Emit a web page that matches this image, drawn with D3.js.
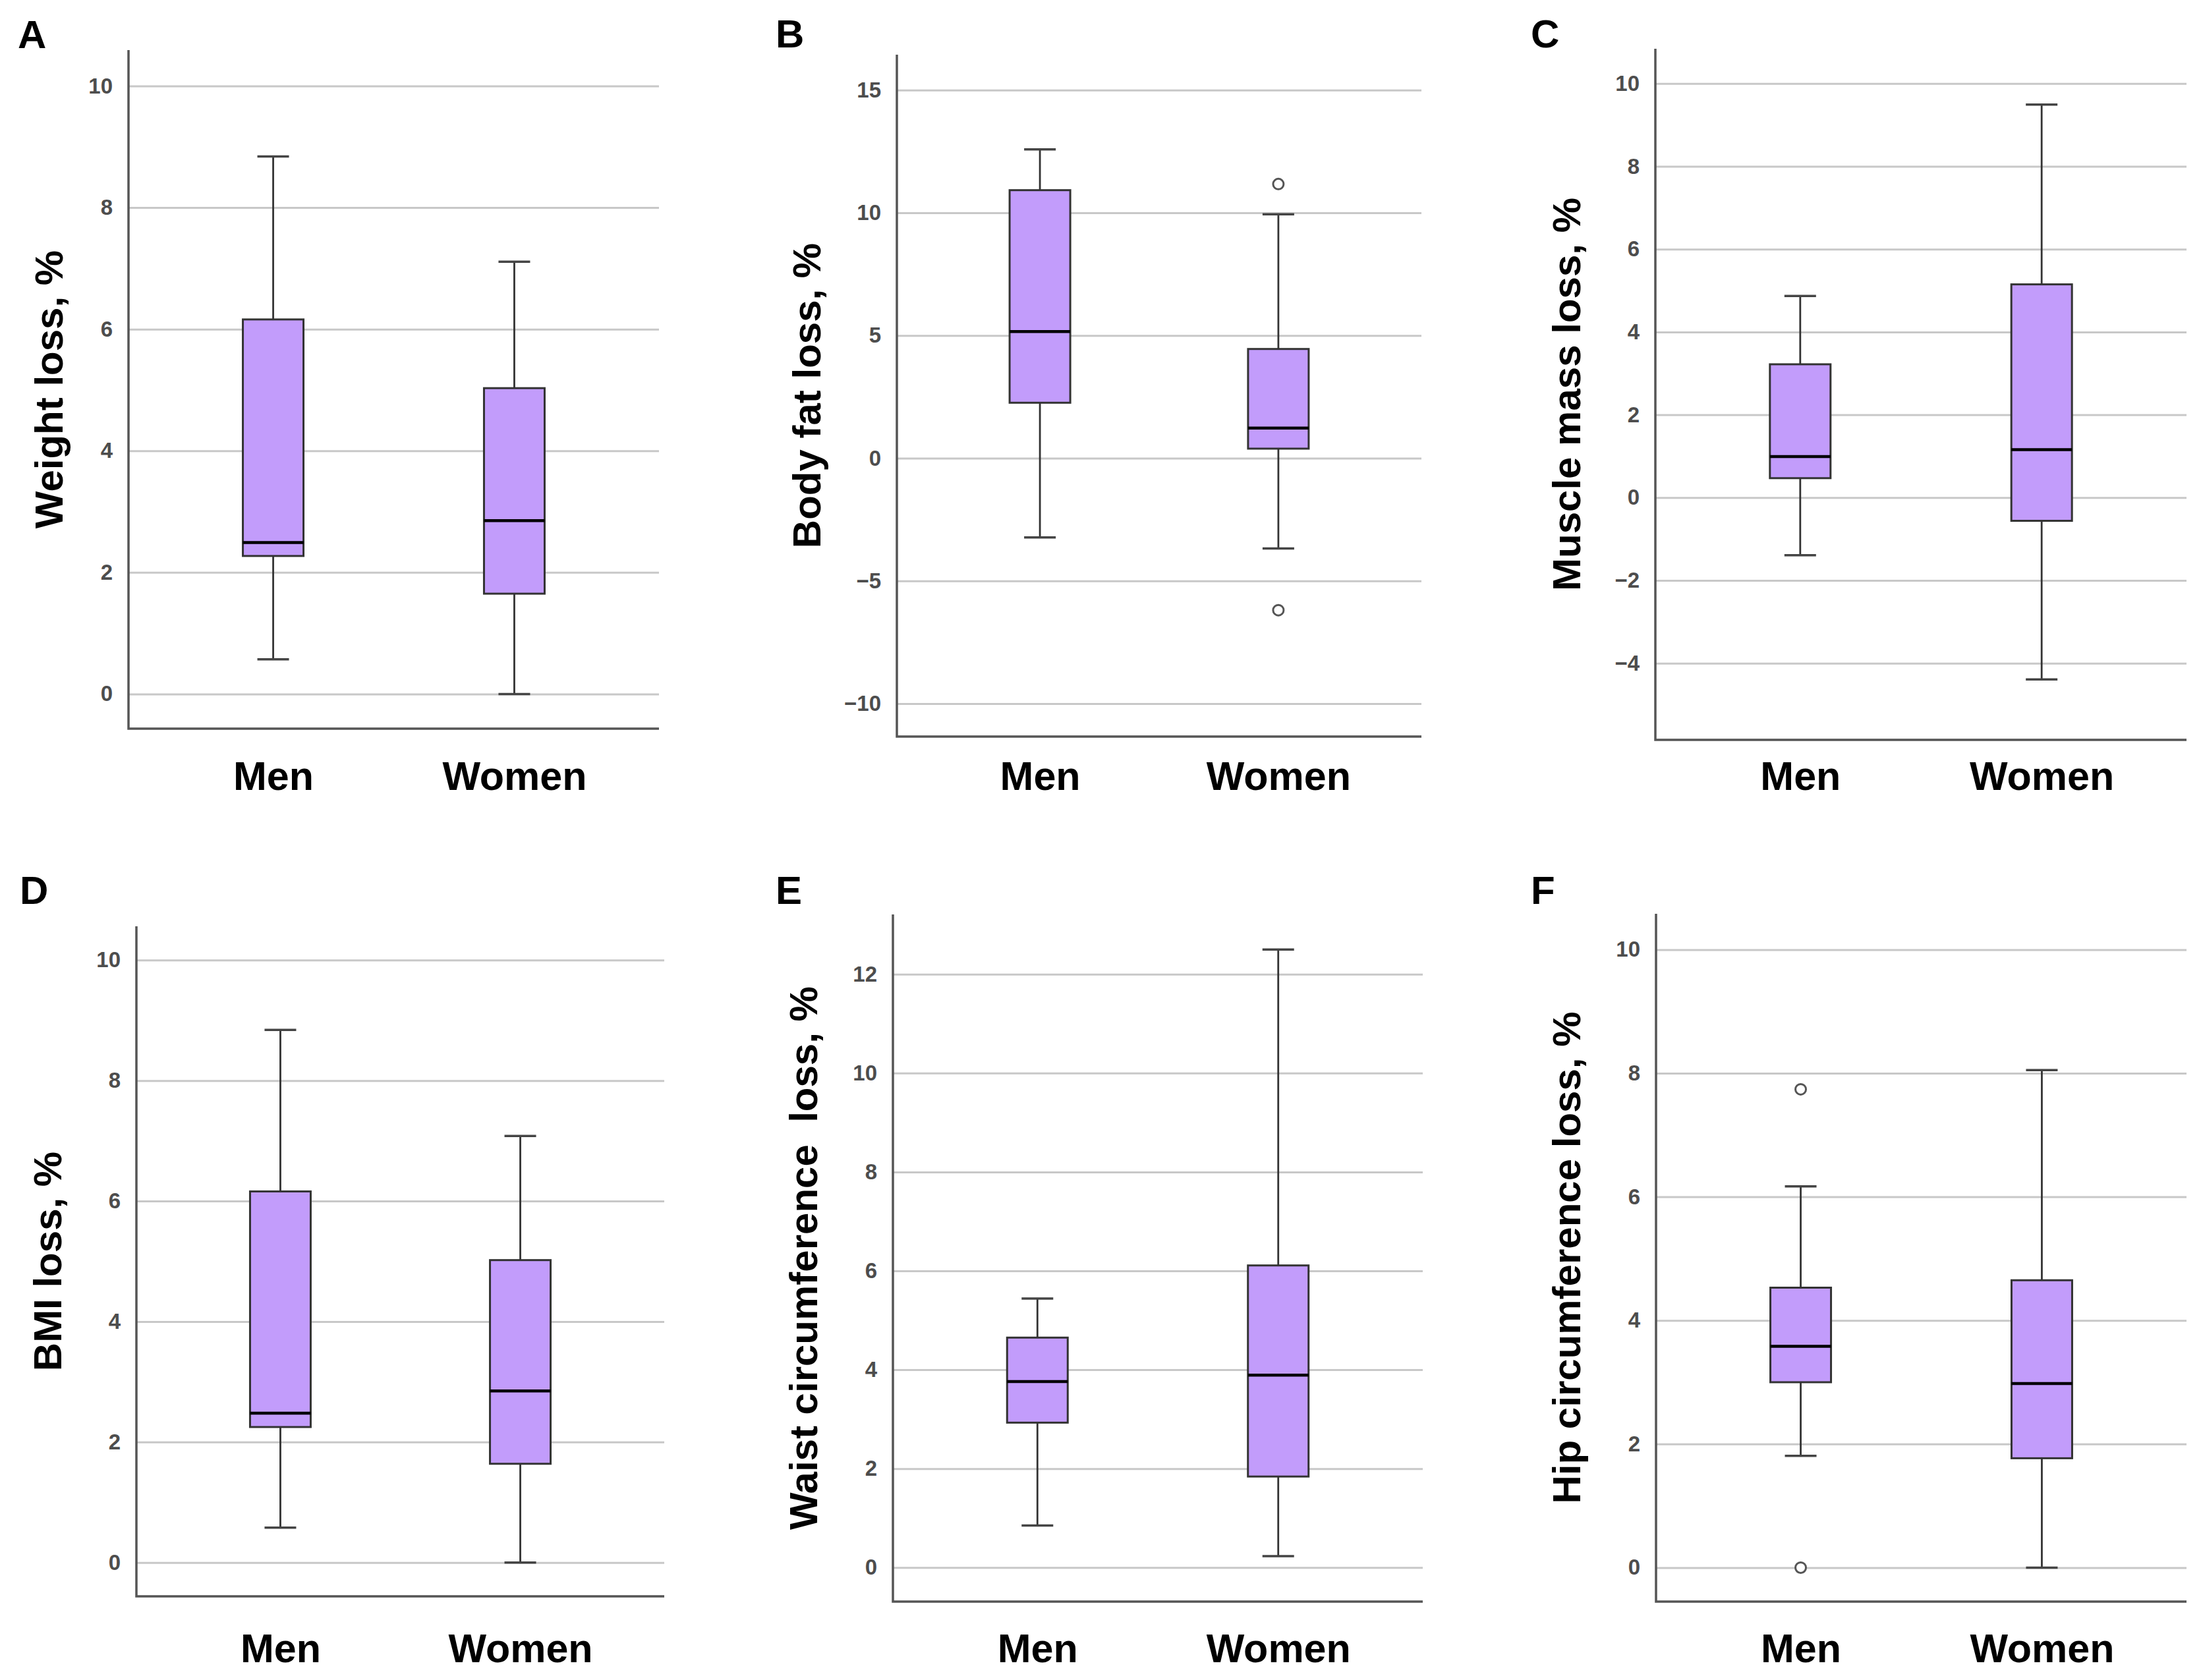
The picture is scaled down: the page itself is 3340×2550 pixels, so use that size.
<!DOCTYPE html>
<html lang="en">
<head>
<meta charset="utf-8">
<title>Loss by sex, box plots</title>
<script src="https://cdn.jsdelivr.net/npm/d3@7"></script>
<style>
  body { margin: 0; background: #fff; }
  svg { display: block; font-family: "Liberation Sans", Arial, sans-serif; }
  .tick line { stroke: #c8c8c8; stroke-width: 3; }
  .yax .tick text { fill: #4d4d4d; font-size: 33px; font-weight: bold; }
  .xax .tick text { fill: #000; font-size: 61px; font-weight: bold; }
</style>
</head>
<body>
<script>
// groups on the x axis
var groups = ["Men", "Women"];

var panelLetters = ["A", "B", "C", "D", "E", "F"];
var yTitles = ["Weight loss, %", "Body fat loss, %", "Muscle mass loss, %",
               "BMI loss, %", "Waist circumference  loss, %", "Hip circumference loss, %"];

var yTicks = [
  [0, 2, 4, 6, 8, 10],
  [-10, -5, 0, 5, 10, 15],
  [-4, -2, 0, 2, 4, 6, 8, 10],
  [0, 2, 4, 6, 8, 10],
  [0, 2, 4, 6, 8, 10, 12],
  [0, 2, 4, 6, 8, 10]
];
var yDomains = [
  [-0.57, 10.59],
  [-11.34, 16.44],
  [-5.85, 10.84],
  [-0.56, 10.56],
  [-0.69, 13.21],
  [-0.55, 10.58]
];

// [whisker low, Q1, median, Q3, whisker high]
var menStats = [
  [0.57, 2.27, 2.49, 6.16, 8.84],
  [-3.23, 2.26, 5.16, 10.92, 12.58],
  [-1.39, 0.47, 0.99, 3.22, 4.87],
  [0.58, 2.25, 2.48, 6.16, 8.84],
  [0.85, 2.93, 3.76, 4.65, 5.44],
  [1.81, 3.00, 3.58, 4.53, 6.17]
];
var womenStats = [
  [0.00, 1.65, 2.85, 5.03, 7.11],
  [-3.68, 0.39, 1.23, 4.45, 9.94],
  [-4.39, -0.56, 1.16, 5.15, 9.49],
  [0.00, 1.64, 2.85, 5.02, 7.08],
  [0.23, 1.84, 3.89, 6.11, 12.50],
  [0.00, 1.77, 2.98, 4.65, 8.05]
];
var menOutliers = [[], [], [], [], [], [7.74, 0.0]];
var womenOutliers = [[], [11.17, -6.19], [], [], [], []];

// where each panel sits on the page
var layout = [
  {x0: 195,  x1: 1000, top: 76,   bottom: 1106, titleX: 74,   lx: 27,   ly: 73,   catY: 1199},
  {x0: 1361, x1: 2157, top: 83,   bottom: 1118, titleX: 1224, lx: 1177, ly: 72,   catY: 1199},
  {x0: 2512, x1: 3318, top: 74,   bottom: 1123, titleX: 2377, lx: 2323, ly: 72,   catY: 1199},
  {x0: 207,  x1: 1008, top: 1406, bottom: 2423, titleX: 72,   lx: 30,   ly: 1372, catY: 2523},
  {x0: 1355, x1: 2159, top: 1388, bottom: 2431, titleX: 1219, lx: 1177, ly: 1372, catY: 2523},
  {x0: 2513, x1: 3318, top: 1387, bottom: 2431, titleX: 2377, lx: 2323, ly: 1372, catY: 2523}
];

var W = 3340, H = 2550;
var boxW = 92, capW = 48;
var catFont = 61;

var svg = d3.select("body").append("svg").attr("width", W).attr("height", H);

panelLetters.forEach(function(letter, i) {
  var L = layout[i];
  var g = svg.append("g");

  var y = d3.scaleLinear().domain(yDomains[i]).range([L.bottom, L.top]);
  var x = d3.scalePoint().domain(groups).range([L.x0, L.x1]).padding(0.6);

  // gridlines + tick labels
  var yax = g.append("g")
      .attr("class", "yax")
      .attr("transform", "translate(" + L.x0 + ",0)")
      .call(d3.axisLeft(y).tickValues(yTicks[i]).tickSize(-(L.x1 - L.x0)).tickPadding(24));
  yax.select(".domain").remove();

  // group labels
  var xax = g.append("g")
      .attr("class", "xax")
      .attr("transform", "translate(0," + L.bottom + ")")
      .call(d3.axisBottom(x).tickSize(0).tickPadding(L.catY - L.bottom - 0.71 * catFont));
  xax.select(".domain").remove();

  var boxes = [
    {name: groups[0], s: menStats[i], out: menOutliers[i]},
    {name: groups[1], s: womenStats[i], out: womenOutliers[i]}
  ];

  boxes.forEach(function(b) {
    var cx = x(b.name);
    var bg = g.append("g");
    // whiskers
    bg.append("line").attr("x1", cx).attr("x2", cx)
      .attr("y1", y(b.s[0])).attr("y2", y(b.s[1]))
      .attr("stroke", "#333").attr("stroke-width", 2.8);
    bg.append("line").attr("x1", cx).attr("x2", cx)
      .attr("y1", y(b.s[3])).attr("y2", y(b.s[4]))
      .attr("stroke", "#333").attr("stroke-width", 2.8);
    // caps
    [b.s[0], b.s[4]].forEach(function(v) {
      bg.append("line").attr("x1", cx - capW / 2).attr("x2", cx + capW / 2)
        .attr("y1", y(v)).attr("y2", y(v))
        .attr("stroke", "#444").attr("stroke-width", 3.5);
    });
    // box
    bg.append("rect")
      .attr("x", cx - boxW / 2).attr("width", boxW)
      .attr("y", y(b.s[3])).attr("height", y(b.s[1]) - y(b.s[3]))
      .attr("fill", "#c29cfb").attr("stroke", "#333").attr("stroke-width", 3);
    // median
    bg.append("line").attr("x1", cx - boxW / 2).attr("x2", cx + boxW / 2)
      .attr("y1", y(b.s[2])).attr("y2", y(b.s[2]))
      .attr("stroke", "#000").attr("stroke-width", 4.5);
    // outliers
    bg.selectAll("circle").data(b.out).enter().append("circle")
      .attr("cx", cx).attr("cy", function(d) { return y(d); })
      .attr("r", 8).attr("fill", "#fff").attr("stroke", "#555").attr("stroke-width", 3);
  });

  // axis lines
  g.append("path")
    .attr("d", "M" + L.x0 + "," + L.top + "V" + L.bottom + "H" + L.x1)
    .attr("fill", "none").attr("stroke", "#555").attr("stroke-width", 3.5);

  // y title
  g.append("text")
    .attr("transform", "translate(" + L.titleX + "," + ((L.top + L.bottom) / 2) + ") rotate(-90)")
    .attr("text-anchor", "middle")
    .attr("dominant-baseline", "central")
    .attr("font-size", 60).attr("font-weight", "bold")
    .style("white-space", "pre")
    .text(yTitles[i]);

  // panel letter
  g.append("text")
    .attr("x", L.lx).attr("y", L.ly)
    .attr("font-size", 60).attr("font-weight", "bold")
    .text(letter);
});
</script>
</body>
</html>
